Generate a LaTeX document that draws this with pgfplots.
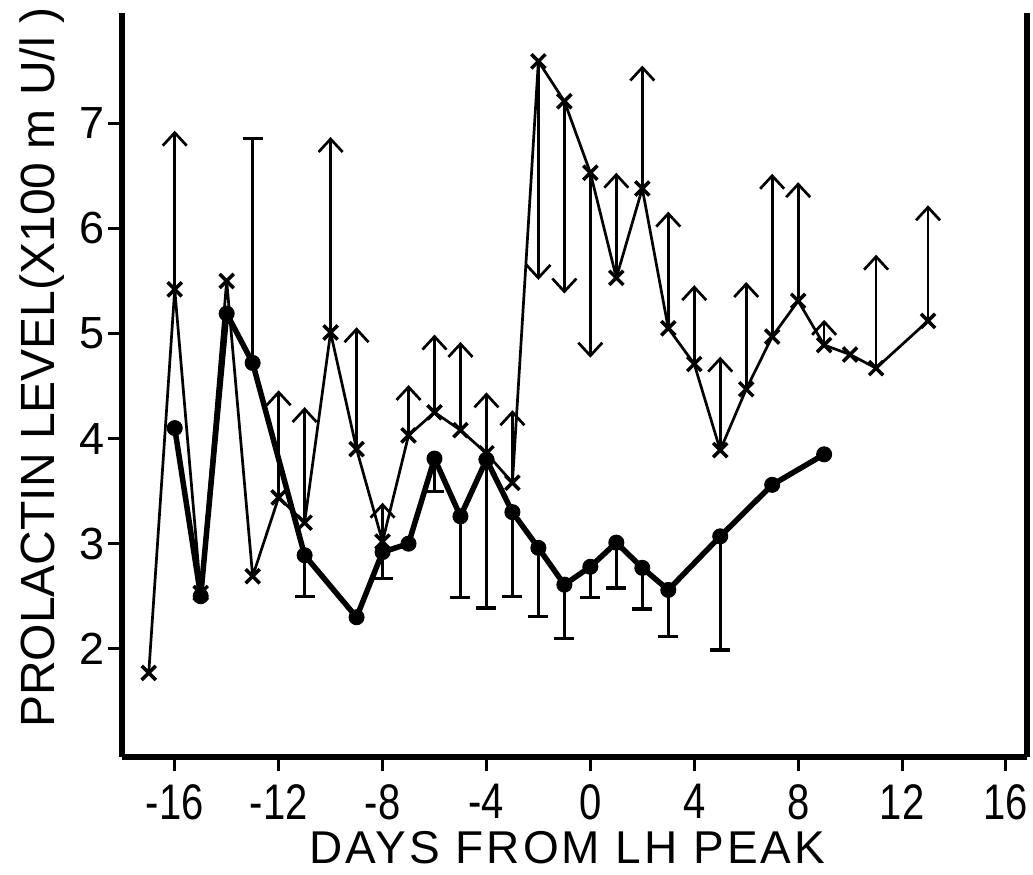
\documentclass[border=0pt]{standalone}
\usepackage{fontspec}
\setmainfont{Liberation Sans}
\newfontfamily\narrowfont[FakeStretch=0.8]{Liberation Sans}
\newfontfamily\widefont[LetterSpace=6.5]{Liberation Sans}
\usepackage{pgfplots}
\pgfplotsset{compat=1.18}
\usetikzlibrary{arrows.meta}

\pgfplotstableread{
x y
-17 1.77
-16 5.42
-15 2.53
-14 5.50
-13 2.69
-12 3.44
-11 3.20
-10 5.01
-9 3.90
-8 3.02
-7 4.03
-6 4.25
-5 4.08
-4 3.86
-3 3.58
-2 7.59
-1 7.21
0 6.53
1 5.53
2 6.38
3 5.05
4 4.71
5 3.89
6 4.47
7 4.97
8 5.31
9 4.89
10 4.80
11 4.67
13 5.12
}\crosses

\pgfplotstableread{
x y dy
-16 5.42 1.51
-12 3.44 1.02
-11 3.20 1.10
-10 5.01 1.86
-9 3.90 1.16
-8 3.02 0.37
-7 4.03 0.48
-6 4.25 0.74
-5 4.08 0.84
-4 3.86 0.58
-3 3.58 0.69
-2 7.59 -2.08
-1 7.21 -1.83
0 6.53 -1.76
1 5.53 1.00
2 6.38 1.17
3 5.05 1.11
4 4.71 0.75
5 3.89 0.89
6 4.47 1.02
7 4.97 1.55
8 5.31 1.13
9 4.89 0.24
11 4.67 1.08
13 5.12 1.10
}\crossarrows

\pgfplotstableread{
x y
-16 4.10
-15 2.50
-14 5.19
-13 4.72
-11 2.89
-9 2.30
-8 2.92
-7 3.00
-6 3.81
-5 3.26
-4 3.80
-3 3.30
-2 2.96
-1 2.61
0 2.78
1 3.01
2 2.77
3 2.56
5 3.07
7 3.56
9 3.85
}\dots

\pgfplotstableread{
x y dy
-13 4.72 2.15
-11 2.89 -0.41
-8 2.92 -0.27
-6 3.81 -0.33
-5 3.26 -0.79
-4 3.80 -1.43
-3 3.30 -0.82
-2 2.96 -0.67
-1 2.61 -0.53
0 2.78 -0.31
1 3.01 -0.45
2 2.77 -0.41
3 2.56 -0.46
5 3.07 -1.10
}\dotbars

\begin{document}
\begin{tikzpicture}
\begin{axis}[
  scale only axis, width=905pt, height=744pt,
  xmin=-18.03, xmax=16.81, ymin=0.97, ymax=8.05,
  separate axis lines,
  axis x line*=bottom, axis y line*=box,
  axis line style={line width=6pt, -},
  xtick={-16,-12,...,16}, ytick={2,3,4,5,6,7},
  ytick pos=left, xtick pos=bottom,
  tick align=outside, major tick length=14pt,
  tick style={line width=3pt, black},
  /pgf/number format/assume math mode=true,
  xticklabel style={font=\narrowfont\fontsize{50}{50}\selectfont, yshift=-10pt},
  yticklabel style={font=\fontsize{45}{45}\selectfont},
  xlabel={DAYS FROM LH PEAK},
  ylabel={PROLACTIN LEVEL(X100 m U/l )},
  every axis x label/.style={at={(axis description cs:0.492,-0.1438)},anchor=base,inner sep=0pt,font=\widefont\fontsize{46}{46}\selectfont},
  every axis y label/.style={at={(axis description cs:-0.0884,0.523)},anchor=center,rotate=90,font=\fontsize{48}{48}\selectfont},
  clip=false,
]
\addplot[black, line width=2.7pt, -{Straight Barb[length=13pt,width=24pt,line width=2.7pt]},
  quiver={u=0, v=\thisrow{dy}}] table[x=x,y=y] {\crossarrows};
\addplot[black, line width=2.7pt, -{Bar[width=20pt,line width=3.5pt]},
  quiver={u=0, v=\thisrow{dy}}] table[x=x,y=y] {\dotbars};
\addplot[black, line width=2.7pt, line join=round, mark=x, mark size=10pt,
  mark options={line width=3.5pt}] table[x=x,y=y] {\crosses};
\addplot[black, line width=5.5pt, line join=round, mark=*, mark size=7.5pt,
  mark options={line width=1pt}] table[x=x,y=y] {\dots};
\end{axis}
\pgfresetboundingbox
\path (-122pt,-118pt) rectangle (911pt,757pt);
\end{tikzpicture}
\end{document}
